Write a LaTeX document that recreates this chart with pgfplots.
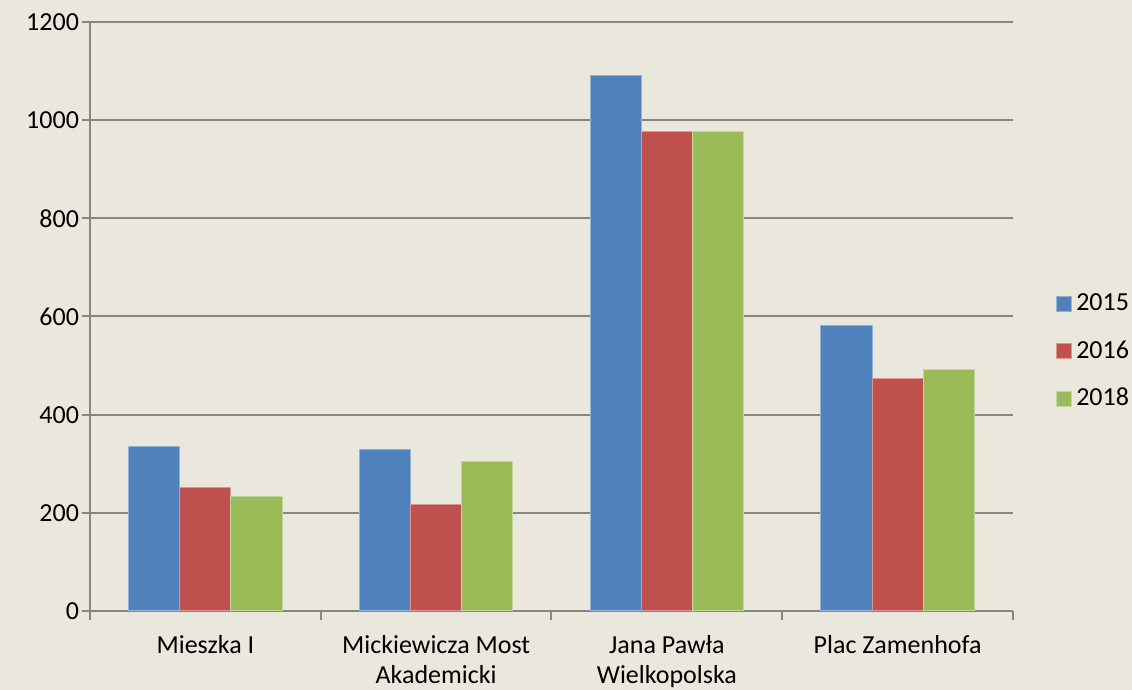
\documentclass[border=0pt]{standalone}
\usepackage{pgfplots}
\pgfplotsset{compat=1.18}
\usepackage{fontspec}
\setmainfont{Carlito}
\definecolor{bg}{HTML}{EAE7DD}
\definecolor{c15}{HTML}{4F81BD}
\definecolor{c16}{HTML}{C0504D}
\definecolor{c18}{HTML}{9BBB59}
\definecolor{gr}{HTML}{868686}
\begin{document}
\fontsize{13}{15.6}\selectfont
\begin{tikzpicture}
\fill[bg] (-45pt,-39.5pt) rectangle (521pt,305.5pt);
\begin{axis}[
  at={(0,0)}, anchor=south west,
  scale only axis, width=461.5pt, height=294.5pt,
  xmin=-0.5, xmax=3.5, ymin=0, ymax=1200,
  ybar=0pt, bar width=25.6pt,
  axis x line*=bottom, axis y line*=left,
  axis line style={gr, line width=1pt, -},
  every tick/.style={gr, line width=1pt},
  tick align=outside,
  major tick length=4pt, minor tick length=4.5pt,
  xtick={0,1,2,3},
  xticklabels={Mieszka I,{Mickiewicza Most\\Akademicki},{Jana Pawła\\Wielkopolska},Plac Zamenhofa},
  major x tick style={draw=none},
  minor xtick={-0.5,0.5,1.5,2.5,3.5},
  xticklabel style={align=center, text=black, yshift=-3.5pt, font=\fontsize{13}{15}\selectfont},
  ytick={0,200,400,600,800,1000,1200},
  yticklabels={0,200,400,600,800,1000,1200},
  yticklabel style={text=black, xshift=3pt, font=\fontsize{13}{15.6}\selectfont},
  ymajorgrids,
  major grid style={gr, line width=1pt},
  legend style={draw=none, fill=none, at={(1.04,0.44)}, anchor=west,
    font=\fontsize{13}{15.6}\selectfont, row sep=9pt},
  legend cell align=left,
  legend image code/.code={\fill[#1] (0pt,-3.75pt) rectangle (7.5pt,3.75pt);},
]
\addplot[fill=c15, draw=c15!60!white, line width=0.5pt] coordinates {(0,335) (1,330) (2,1091) (3,582)};
\addplot[fill=c16, draw=c16!60!white, line width=0.5pt] coordinates {(0,252) (1,216) (2,976) (3,474)};
\addplot[fill=c18, draw=c18!60!white, line width=0.5pt] coordinates {(0,234) (1,304) (2,976) (3,493)};
\legend{2015,2016,2018}
\end{axis}
\pgfresetboundingbox
\path (-45pt,-39.5pt) rectangle (521pt,305.5pt);
\end{tikzpicture}
\end{document}
